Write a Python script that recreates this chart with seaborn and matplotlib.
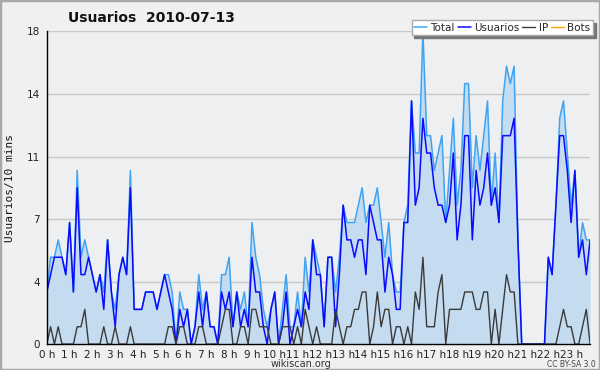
import matplotlib
matplotlib.use("Agg")
import matplotlib.pyplot as plt
import seaborn as sns
import numpy as np
import pandas as pd
from matplotlib.patches import Rectangle

# ---- data (10-minute intervals, 2010-07-13) ----
total = [3, 5, 5, 6, 5, 4, 7, 3, 10, 5, 6, 5, 4, 3, 4, 3, 6, 3, 2, 4, 5, 4, 10, 2,
         2, 2, 3, 3, 3, 2, 3, 4, 4, 3, 0, 3, 2, 2, 0, 1, 4, 2, 3, 1, 1, 0, 4, 4,
         5, 1, 3, 2, 3, 1, 7, 5, 4, 2, 1, 2, 3, 0, 2, 4, 1, 1, 3, 1, 5, 3, 6, 5,
         4, 1, 5, 5, 3, 5, 8, 7, 7, 7, 8, 9, 7, 8, 8, 9, 7, 5, 7, 4, 3, 3, 7, 8,
         14, 11, 11, 18, 12, 12, 10, 11, 12, 7, 10, 13, 8, 10, 15, 15, 9, 12, 10, 12, 14, 8,
         11, 7, 14, 16, 15, 16, 6, 0, 0, 0, 0, 0, 0, 0, 5, 4, 8, 13, 14, 11, 8, 10, 5, 7, 6, 6]
usuarios = [3, 4, 5, 5, 5, 4, 7, 3, 9, 4, 4, 5, 4, 3, 4, 2, 6, 3, 1, 4, 5, 4, 9, 2,
            2, 2, 3, 3, 3, 2, 3, 4, 3, 2, 0, 2, 1, 2, 0, 1, 3, 1, 3, 1, 1, 0, 3, 2,
            3, 1, 3, 1, 2, 1, 5, 3, 3, 1, 0, 2, 3, 0, 1, 3, 0, 1, 2, 1, 3, 2, 6, 4,
            4, 1, 5, 5, 1, 4, 8, 6, 6, 5, 6, 6, 4, 8, 7, 6, 6, 3, 5, 4, 2, 2, 7, 7,
            14, 8, 9, 13, 11, 11, 9, 8, 8, 7, 8, 11, 6, 8, 12, 12, 6, 10, 8, 9, 11, 8,
            9, 7, 12, 12, 12, 13, 6, 0, 0, 0, 0, 0, 0, 0, 5, 4, 8, 12, 12, 10, 7, 10, 5, 6, 4, 6]
ip = [0, 1, 0, 1, 0, 0, 0, 0, 1, 1, 2, 0, 0, 0, 0, 1, 0, 0, 1, 0, 0, 0, 1, 0,
      0, 0, 0, 0, 0, 0, 0, 0, 1, 1, 0, 1, 1, 0, 0, 0, 1, 1, 0, 0, 0, 0, 1, 2,
      2, 0, 0, 1, 1, 0, 2, 2, 1, 1, 1, 0, 0, 0, 1, 1, 1, 0, 1, 0, 2, 1, 0, 1,
      0, 0, 0, 0, 2, 1, 0, 1, 1, 2, 2, 3, 3, 0, 1, 3, 1, 2, 2, 0, 1, 1, 0, 1,
      0, 3, 2, 5, 1, 1, 1, 3, 4, 0, 2, 2, 2, 2, 3, 3, 3, 2, 2, 3, 3, 0,
      2, 0, 2, 4, 3, 3, 0, 0, 0, 0, 0, 0, 0, 0, 0, 0, 0, 1, 2, 1, 1, 0, 0, 1, 2, 0]
bots = [0] * 144
minutes = list(range(0, 1440, 10))

ytick_vals = [0, 3.6, 7.2, 10.8, 14.4, 18]
ytick_labels = ["0", "4", "7", "11", "14", "18"]
hour_labels = [f"{h} h" for h in range(24)]

df = pd.DataFrame({"t": np.array(minutes) / 60.0, "Total": total,
                   "Usuarios": usuarios, "IP": ip, "Bots": bots})

sns.set_style("white")
plt.rcParams["font.family"] = ["DejaVu Sans"]
NARROW = ["Liberation Sans Narrow", "DejaVu Sans"]

fig = plt.figure(figsize=(6.0, 3.7), dpi=100, facecolor="#f0f0f0")
ax = fig.add_axes([0.078, 0.070, 0.9055, 0.845])
ax.set_facecolor("#eeeff1")

ax.fill_between(df["t"], 0, df["Total"], color="#c5dcf0", lw=0, zorder=1)
sns.lineplot(data=df, x="t", y="Bots", ax=ax, color="#ffa500", lw=1, label="Bots", zorder=0.5)
sns.lineplot(data=df, x="t", y="Total", ax=ax, color="#3fa4f2", lw=1.1, label="Total", zorder=3)
sns.lineplot(data=df, x="t", y="Usuarios", ax=ax, color="#0a0aff", lw=1.1, label="Usuarios", zorder=4)
sns.lineplot(data=df, x="t", y="IP", ax=ax, color="#3a3a3a", lw=1.0, label="IP", zorder=5)

ax.set_xlim(0, df["t"].iloc[-1])
ax.set_ylim(0, 18)
ax.set_yticks(ytick_vals)
ax.set_yticklabels(ytick_labels)
ax.set_yticks(np.arange(0, 18.01, 0.9), minor=True)
ax.set_xticks(range(24))
ax.set_xticklabels(hour_labels)
ax.set_xticks(df["t"], minor=True)
ax.grid(False)
ax.yaxis.grid(True, which="major", color="#c8c8c8", lw=1, zorder=0.2)
ax.set_axisbelow(True)

for s in ["top", "right"]:
    ax.spines[s].set_visible(False)
for s in ["left", "bottom"]:
    ax.spines[s].set_color("black")
    ax.spines[s].set_linewidth(1)
    ax.spines[s].set_zorder(6)

ax.tick_params(axis="both", which="major", direction="out", length=4, width=1,
               color="black", pad=1, labelcolor="#222222")
ax.tick_params(axis="both", which="minor", direction="out", length=2.5, width=0.8, color="black")
ax.tick_params(axis="x", which="major", pad=0)
for lab in ax.get_xticklabels():
    lab.set_family(NARROW)
    lab.set_fontsize(7.5)
for lab in ax.get_yticklabels():
    lab.set_family(NARROW)
    lab.set_fontsize(7.5)
ax.set_xlabel("")
ax.set_ylabel("")

# legend
h, l = ax.get_legend_handles_labels()
order = ["Total", "Usuarios", "IP", "Bots"]
hd = dict(zip(l, h))
leg = fig.legend([hd[k] for k in order], order, loc="upper right",
                 bbox_to_anchor=(0.988, 0.946), ncol=4,
                 prop={"family": NARROW, "size": 7.5}, frameon=True,
                 fancybox=False, shadow={"color": "#777777", "alpha": 1},
                 handlelength=1.25, handletextpad=0.3, columnspacing=0.3,
                 borderpad=0.25, borderaxespad=0)
leg.get_frame().set_edgecolor("#aaaaaa")
leg.get_frame().set_facecolor("white")
leg.get_frame().set_linewidth(1)
if ax.get_legend():
    ax.get_legend().remove()

fig.text(0.252, 0.951, "Usuarios  2010-07-13", ha="center", va="center",
         fontsize=10, fontweight="bold", color="#111111")
fig.text(0.017, 0.492, "Usuarios/10 mins", rotation=90, ha="center", va="center",
         fontsize=8, family="DejaVu Sans Mono", color="#111111")
fig.text(0.502, 0.015, "wikiscan.org", ha="center", va="center", fontsize=7,
         family=NARROW, color="#333333")
fig.text(0.952, 0.014, "CC BY-SA 3.0", ha="center", va="center", fontsize=5.5,
         family=NARROW, color="#444444")

fig.patches.append(Rectangle((0, 0), 1, 1, transform=fig.transFigure, fill=False,
                             edgecolor="#a8a8a8", lw=2.5))

fig.savefig("out.png", dpi=100, facecolor=fig.get_facecolor())
